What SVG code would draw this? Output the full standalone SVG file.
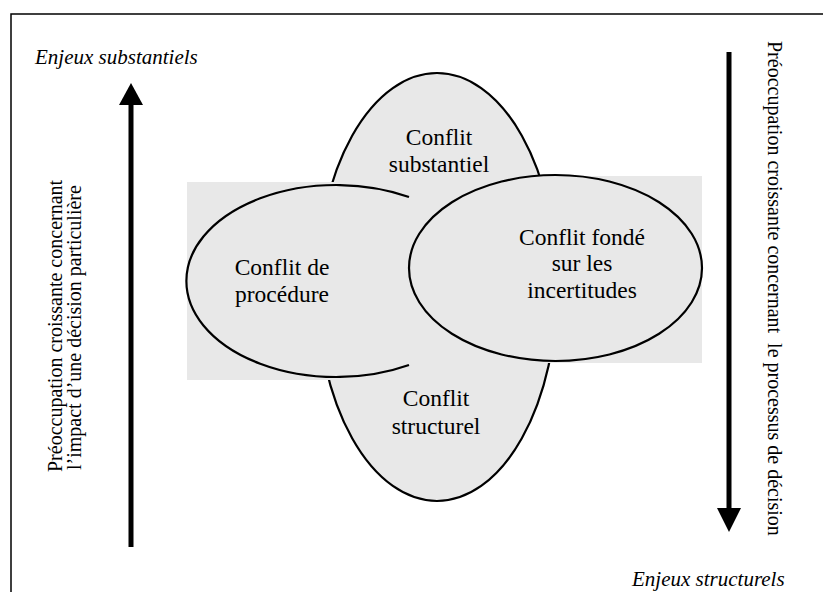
<svg xmlns="http://www.w3.org/2000/svg" width="823" height="592" viewBox="0 0 823 592">
<style>
text{font-family:"Liberation Serif","Times New Roman","DejaVu Serif",serif;fill:#000}
.lbl{font-size:23.5px;text-anchor:middle}
.ax{font-size:20px}
.it{font-size:21px;font-style:italic}
.ln{fill:none;stroke:#000;stroke-width:2.2}
.gray{fill:#e8e8e8}
</style>
<rect x="11" y="14" width="900" height="700" fill="#fff" stroke="#000" stroke-width="1.5"/>
<g id="axes">
<line x1="131" y1="547" x2="131" y2="100" stroke="#000" stroke-width="5"/>
<polygon points="131,83 119,105 143,105" fill="#000"/>
<line x1="729" y1="52" x2="729" y2="512" stroke="#000" stroke-width="5"/>
<polygon points="729,532 717,508 741,508" fill="#000"/>
</g>
<g font-family="Liberation Serif, Times New Roman, serif">
<text class="it" x="35" y="64">Enjeux substantiels</text>
<text class="it" x="632" y="586" font-size="20.5">Enjeux structurels</text>
<text class="ax" transform="translate(62,472) rotate(-90)">Préoccupation croissante concernant</text>
<text class="ax" transform="translate(81,470) rotate(-90)">l’impact d’une décision particulière</text>
<text class="ax" font-size="21" transform="translate(768,41) rotate(90)" xml:space="preserve">Préoccupation croissante concernant  le processus de décision</text>
</g>
<g id="n-substantiel">
<ellipse cx="437" cy="287" rx="120" ry="214" class="gray" stroke="#000" stroke-width="2.2"/>
</g>
<rect x="187" y="182" width="223" height="198" class="gray"/>
<rect x="409" y="176" width="293" height="187" class="gray"/>
<g id="n-procedure">
<path class="ln" d="M409,197 A150,96 0 1 0 409,365"/>
</g>
<g id="n-incertitudes">
<ellipse cx="555.5" cy="268" rx="146.5" ry="93" class="gray" stroke="#000" stroke-width="2.2"/>
</g>
<g font-family="Liberation Serif, Times New Roman, serif">
<text class="lbl" x="439" y="145">Conflit</text>
<text class="lbl" x="439" y="172">substantiel</text>
<text class="lbl" x="282" y="275">Conflit de</text>
<text class="lbl" x="282" y="302">procédure</text>
<text class="lbl" x="582" y="245">Conflit fondé</text>
<text class="lbl" x="582" y="271">sur les</text>
<text class="lbl" x="582" y="298">incertitudes</text>
<text class="lbl" x="436" y="406">Conflit</text>
<text class="lbl" x="436" y="434">structurel</text>
</g>
</svg>
